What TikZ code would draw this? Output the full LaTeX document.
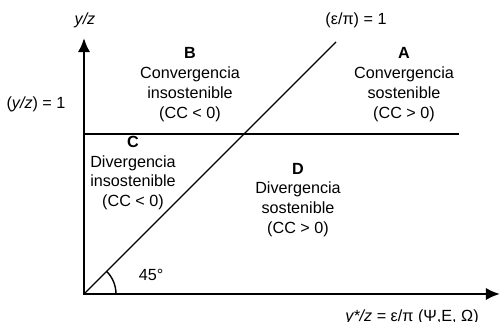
\documentclass[tikz,border=0pt]{standalone}
\usepackage{fontspec}
\setmainfont{Liberation Sans}
\usepackage{tikz}
\usetikzlibrary{arrows.meta,positioning,calc}

\begin{document}
\begin{tikzpicture}[
  axis/.style={line width=1.3pt, -{Latex[length=8pt, width=7pt]}},
  thin/.style={line width=0.8pt},
  zone/.style={align=center, font=\fontsize{9.2}{11.3}\selectfont, inner sep=0pt},
  lbl/.style={font=\fontsize{9.2}{11.3}\selectfont, inner sep=0pt}
]
  \useasboundingbox (-1.68,-0.56) rectangle (8.36,5.88);
  \coordinate (O) at (0,0);
  \coordinate (ytip) at (0,5.12);
  \coordinate (xtip) at (8.32,0);
  \coordinate (hl) at (0,3.2);
  \coordinate (hr) at (7.5,3.2);
  \coordinate (dend) at (5.04,5.04);

  % axes and the two unit lines
  \draw[thin] (hl) -- (hr);
  \draw[thin] (O) -- (dend);
  \draw[axis] (O) -- (ytip);
  \draw[axis] ([xshift=-0.65pt]O) -- (xtip);
  \draw[thin] ($(O)+(0.64,0)$) arc (0:45:0.64);

  % labels
  \node[lbl] (ylab) at (0.02,5.48) {\itshape y/z};
  \node[lbl] (yone) at (-0.96,3.8) {(\textit{y/z}) = 1};
  \node[lbl] (eone) at (5.44,5.48) {(ε/π) = 1};
  \node[lbl] (xlab) at (6.56,-0.46) {\textit{y*/z} = ε/π (Ψ,E, Ω)};
  \node[lbl] (ang) at (1.34,0.38) {45°};

  \node[zone] (B) at (2.12,4.19) {\textbf{B}\\Convergencia\\insostenible\\(CC < 0)};
  \node[zone] (A) at (6.4,4.19) {\textbf{A}\\Convergencia\\sostenible\\(CC > 0)};
  \node[zone] (C) at (0.98,2.42) {\textbf{C}\\Divergencia\\insostenible\\(CC < 0)};
  \node[zone] (D) at (4.28,1.88) {\textbf{D}\\Divergencia\\sostenible\\(CC > 0)};
\end{tikzpicture}
\end{document}
